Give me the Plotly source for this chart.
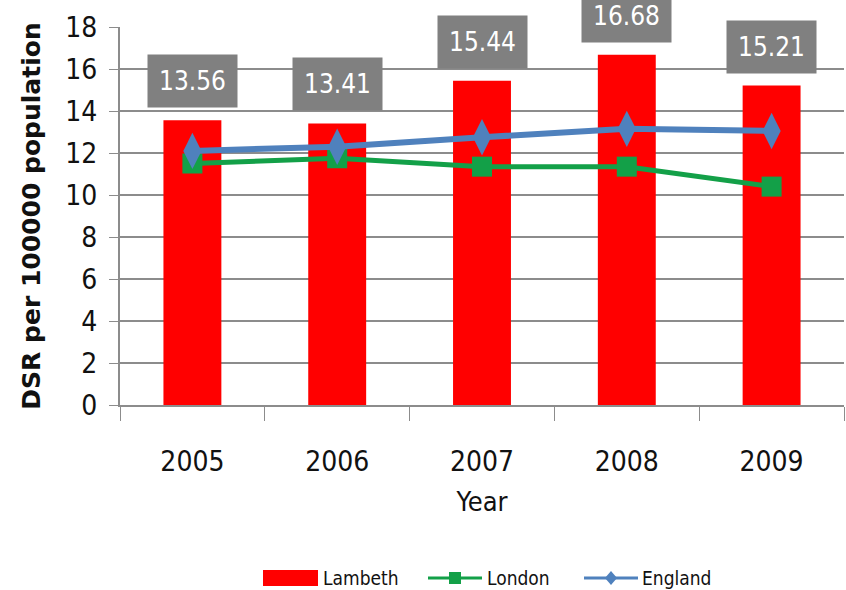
import plotly.graph_objects as go

years = ["2005", "2006", "2007", "2008", "2009"]
lambeth = [13.56, 13.41, 15.44, 16.68, 15.21]
london = [11.5, 11.75, 11.35, 11.35, 10.4]
england = [12.1, 12.3, 12.75, 13.15, 13.05]
y_ticks = [0, 2, 4, 6, 8, 10, 12, 14, 16, 18]

narrow = "DejaVu Sans Condensed, Liberation Sans Narrow, sans-serif"
grid_col = "#8c8c8c"
red, green, blue = "#ff0000", "#13a048", "#4f81bd"

W, H = 846, 590
ML, MR, MT, MB = 120, 2, 27, 185
PW, PH = W - ML - MR, H - MT - MB


def px(x):
    """pixel column -> paper x"""
    return (x - ML) / PW


def py(y):
    """pixel row -> paper y"""
    return (H - MB - y) / PH


fig = go.Figure()
fig.add_trace(go.Bar(
    x=years, y=lambeth, name="Lambeth", width=0.4,
    marker=dict(color=red, line=dict(width=0)),
))
fig.add_trace(go.Scatter(
    x=years, y=london, name="London", mode="lines+markers",
    line=dict(color=green, width=5),
    marker=dict(symbol="square", size=20, color=green),
))
fig.add_trace(go.Scatter(
    x=years, y=england, name="England", mode="lines+markers",
    line=dict(color=blue, width=6),
    marker=dict(symbol="diamond-tall", size=26, color=blue),
))

# value boxes above each Lambeth bar
for i, v in enumerate(lambeth):
    fig.add_annotation(
        x=i, y=v, xref="x", yref="y", text=f"{v:.2f}", showarrow=False,
        yanchor="bottom", yshift=12,
        bgcolor="#808080", borderpad=11,
        font=dict(family=narrow, size=26, color="white"),
    )

# legend row beneath the chart
ly = 578
fig.add_shape(type="rect", xref="paper", yref="paper",
              x0=px(263), x1=px(318), y0=py(586), y1=py(570),
              fillcolor=red, line=dict(width=0))
for x0, col in [(428, green), (584, blue)]:
    fig.add_shape(type="line", xref="paper", yref="paper",
                  x0=px(x0), x1=px(x0 + 54), y0=py(ly), y1=py(ly),
                  line=dict(color=col, width=3))
# London key: square marker
fig.add_shape(type="rect", xref="paper", yref="paper",
              x0=px(449), x1=px(461), y0=py(ly + 6), y1=py(ly - 6),
              fillcolor=green, line=dict(width=0))
# England key: diamond marker
cx = 611
fig.add_shape(type="path", xref="paper", yref="paper",
              path=(f"M {px(cx - 6)} {py(ly)} L {px(cx)} {py(ly - 7)} "
                    f"L {px(cx + 6)} {py(ly)} L {px(cx)} {py(ly + 7)} Z"),
              fillcolor=blue, line=dict(width=0))
for xt, label in [(321, "Lambeth"), (485, "London"), (640, "England")]:
    fig.add_annotation(x=px(xt), y=py(ly), xref="paper", yref="paper",
                       text=label, showarrow=False,
                       xanchor="left", yanchor="middle",
                       font=dict(family=narrow, size=19, color="#111"))

fig.update_layout(
    width=W, height=H,
    margin=dict(l=ML, r=MR, t=MT, b=MB),
    plot_bgcolor="white", paper_bgcolor="white",
    showlegend=False,
    xaxis=dict(
        range=[-0.5, 4.5], type="category",
        showline=True, linecolor=grid_col, linewidth=2,
        ticks="outside", tickson="boundaries", ticklen=14, tickcolor=grid_col,
        tickfont=dict(family=narrow, size=28, color="#111"),
        ticklabelstandoff=30,
        title=dict(text="Year", font=dict(family=narrow, size=27, color="#111"), standoff=16),
        showgrid=False,
    ),
    yaxis=dict(
        range=[0, 18], tickvals=y_ticks,
        showline=True, linecolor=grid_col, linewidth=2,
        ticks="outside", ticklen=9, tickcolor=grid_col,
        ticklabelstandoff=6,
        showgrid=True, gridcolor=grid_col, gridwidth=1.5,
        tickfont=dict(family=narrow, size=28, color="#111"),
        title=dict(text="<b>DSR per 100000 population</b>",
                   font=dict(family="DejaVu Sans, sans-serif", size=25, color="#111"), standoff=18),
        zeroline=False,
    ),
)

fig.write_html("out.html")
